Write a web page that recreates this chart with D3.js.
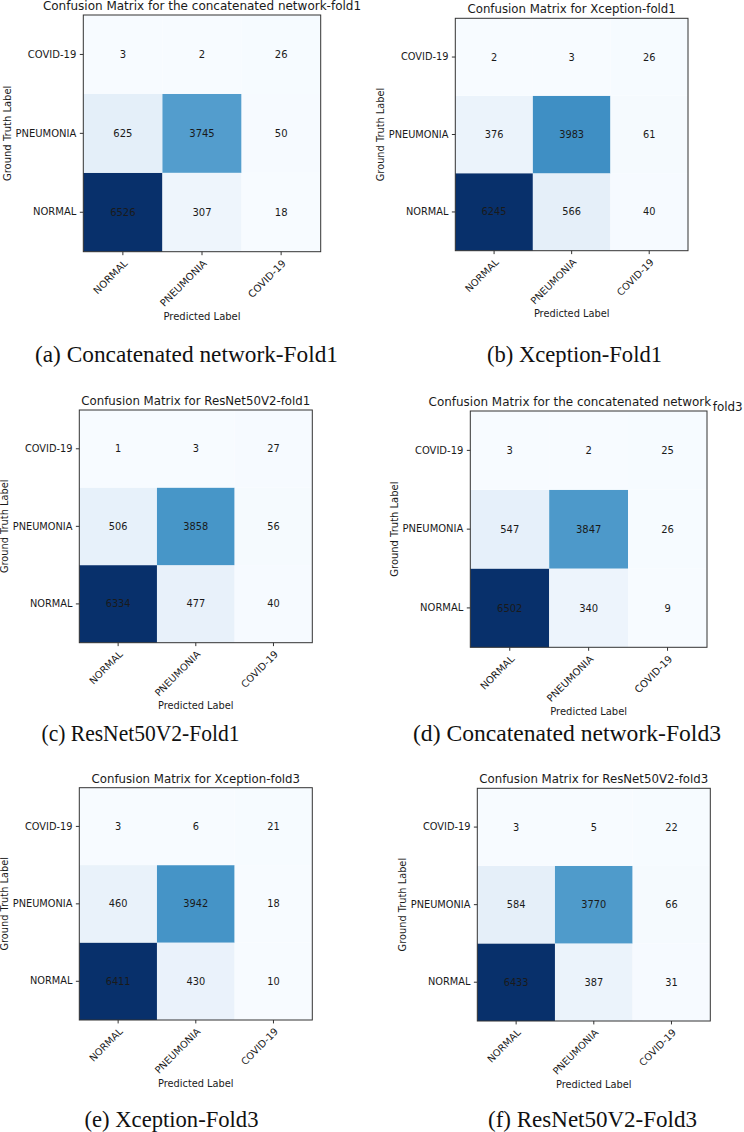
<!DOCTYPE html>
<html><head><meta charset="utf-8">
<script src="https://cdn.jsdelivr.net/npm/d3@7"></script>
<style>body{margin:0;background:#fff}svg{display:block}</style>
</head><body>
<svg id="chart" width="744" height="1132"></svg>
<script>
// ---------- data ----------
const predictedLabels = ["NORMAL", "PNEUMONIA", "COVID-19"];      // x axis, left to right
const truthLabels = ["COVID-19", "PNEUMONIA", "NORMAL"];          // y axis, top to bottom
const matrixRowOrder = ["NORMAL", "PNEUMONIA", "COVID-19"];       // row order of the matrices below

const concatFold1   = [[6526, 307, 18], [625, 3745, 50], [3, 2, 26]];
const xceptionFold1 = [[6245, 566, 40], [376, 3983, 61], [2, 3, 26]];
const resnetFold1   = [[6334, 477, 40], [506, 3858, 56], [1, 3, 27]];
const concatFold3   = [[6502, 340, 9],  [547, 3847, 26], [3, 2, 25]];
const xceptionFold3 = [[6411, 430, 10], [460, 3942, 18], [3, 6, 21]];
const resnetFold3   = [[6433, 387, 31], [584, 3770, 66], [3, 5, 22]];

const chartTitles = [
  "Confusion Matrix for the concatenated network-fold1",
  "Confusion Matrix for Xception-fold1",
  "Confusion Matrix for ResNet50V2-fold1",
  "Confusion Matrix for the concatenated network_fold3",
  "Confusion Matrix for Xception-fold3",
  "Confusion Matrix for ResNet50V2-fold3"
];
const captions = [
  "(a) Concatenated network-Fold1",
  "(b) Xception-Fold1",
  "(c) ResNet50V2-Fold1",
  "(d) Concatenated network-Fold3",
  "(e) Xception-Fold3",
  "(f) ResNet50V2-Fold3"
];
const matrices = [concatFold1, xceptionFold1, resnetFold1, concatFold3, xceptionFold3, resnetFold3];
const xAxisTitle = "Predicted Label";
const yAxisTitle = "Ground Truth Label";

// ---------- layout (positions only) ----------
const panelBoxes = [
  {x: 83.3,  y: 15,    w: 237.4, h: 236.7, titleShift: 0},
  {x: 455.3, y: 18.3,  w: 232.7, h: 232.4, titleShift: 0},
  {x: 79.3,  y: 410,   w: 233,   h: 232.7, titleShift: 0},
  {x: 470.3, y: 411,   w: 236.7, h: 236.3, titleShift: -3},
  {x: 79.3,  y: 787.7, w: 233,   h: 232.3, titleShift: 0},
  {x: 477.3, y: 788.3, w: 233,   h: 232.7, titleShift: 0}
];
const captionPos = [
  {x: 186.5, y: 362,  len: 303}, {x: 574.5, y: 362,  len: 175},
  {x: 140.5, y: 741,  len: 198}, {x: 567,   y: 741,  len: 308},
  {x: 171.5, y: 1127, len: 174}, {x: 592.5, y: 1127, len: 209}
];

// matplotlib "Blues"
const blues9 = ["#f7fbff","#deebf7","#c6dbef","#9ecae1","#6baed6","#4292c6","#2171b5","#08519c","#08306b"];

const svg = d3.select("#chart");
const FONT = "DejaVu Sans, Verdana, sans-serif";
const ink = "#1a1a1a";

matrices.forEach((m, i) => {
  const b = panelBoxes[i];
  const s = b.w / 237.4;
  const g = svg.append("g");

  const cells = [];
  m.forEach((row, r) => row.forEach((v, c) => cells.push({t: matrixRowOrder[r], p: predictedLabels[c], v})));
  const vals = cells.map(d => d.v);
  const vmin = d3.min(vals), vmax = d3.max(vals);
  const color = d3.scaleLinear()
    .domain(blues9.map((_, k) => vmin + (vmax - vmin) * k / (blues9.length - 1)))
    .range(blues9)
    .interpolate(d3.interpolateRgb);

  const x = d3.scaleBand().domain(predictedLabels).range([b.x, b.x + b.w]);
  const y = d3.scaleBand().domain(truthLabels).range([b.y, b.y + b.h]);

  g.selectAll("rect.cell").data(cells).join("rect")
    .attr("class", "cell")
    .attr("x", d => x(d.p)).attr("y", d => y(d.t))
    .attr("width", x.bandwidth()).attr("height", y.bandwidth())
    .attr("fill", d => color(d.v));

  g.selectAll("text.val").data(cells).join("text")
    .attr("class", "val")
    .attr("x", d => x(d.p) + x.bandwidth() / 2)
    .attr("y", d => y(d.t) + y.bandwidth() / 2)
    .attr("dy", "0.36em")
    .attr("text-anchor", "middle")
    .attr("font-family", FONT).attr("font-size", 10 * s)
    .attr("fill", ink)
    .text(d => d.v);

  // frame
  g.append("rect").attr("x", b.x).attr("y", b.y).attr("width", b.w).attr("height", b.h)
    .attr("fill", "none").attr("stroke", "#333").attr("stroke-width", 1);

  // y axis
  const ya = g.append("g").attr("transform", `translate(${b.x},0)`)
    .call(d3.axisLeft(y).tickSize(3.5 * s).tickPadding(3.5 * s).tickSizeOuter(0));
  ya.select(".domain").remove();
  ya.selectAll("line").attr("stroke", "#333");
  ya.selectAll("text").attr("font-family", FONT).attr("font-size", 10 * s).attr("fill", ink);

  // x axis
  const xa = g.append("g").attr("transform", `translate(0,${b.y + b.h})`)
    .call(d3.axisBottom(x).tickSize(3.5 * s).tickPadding(3.5 * s).tickSizeOuter(0));
  xa.select(".domain").remove();
  xa.selectAll("line").attr("stroke", "#333");
  xa.selectAll("text")
    .attr("font-family", FONT).attr("font-size", 10 * s).attr("fill", ink)
    .attr("x", 0).attr("y", 0).attr("dy", "0.76em")
    .attr("text-anchor", "end")
    .attr("transform", `translate(0,${7 * s}) rotate(-45)`);

  // title
  const parts = chartTitles[i].split("_");
  const tt = g.append("text")
    .attr("x", b.x + b.w / 2 + b.titleShift).attr("y", b.y - 5 * s)
    .attr("text-anchor", "middle")
    .attr("font-family", FONT).attr("font-size", 12 * s).attr("fill", ink);
  tt.append("tspan").text(parts[0]);
  if (parts.length > 1) tt.append("tspan").attr("dx", 1.5).attr("dy", 4.7).text(parts[1]);

  // axis titles
  g.append("text")
    .attr("x", b.x + b.w / 2).attr("y", b.y + b.h + 68 * s)
    .attr("text-anchor", "middle")
    .attr("font-family", FONT).attr("font-size", 10 * s).attr("fill", ink)
    .text(xAxisTitle);
  g.append("text")
    .attr("transform", `translate(${b.x - 76 * s},${b.y + b.h / 2}) rotate(-90)`)
    .attr("dy", "0.35em")
    .attr("text-anchor", "middle")
    .attr("font-family", FONT).attr("font-size", 10 * s).attr("fill", ink)
    .text(yAxisTitle);

  // caption
  svg.append("text")
    .attr("x", captionPos[i].x).attr("y", captionPos[i].y)
    .attr("text-anchor", "middle")
    .attr("font-family", "Liberation Serif, Times New Roman, serif")
    .attr("font-size", 23).attr("fill", "#111")
    .attr("textLength", captionPos[i].len)
    .attr("lengthAdjust", "spacingAndGlyphs")
    .text(captions[i]);
});
</script>
</body></html>
